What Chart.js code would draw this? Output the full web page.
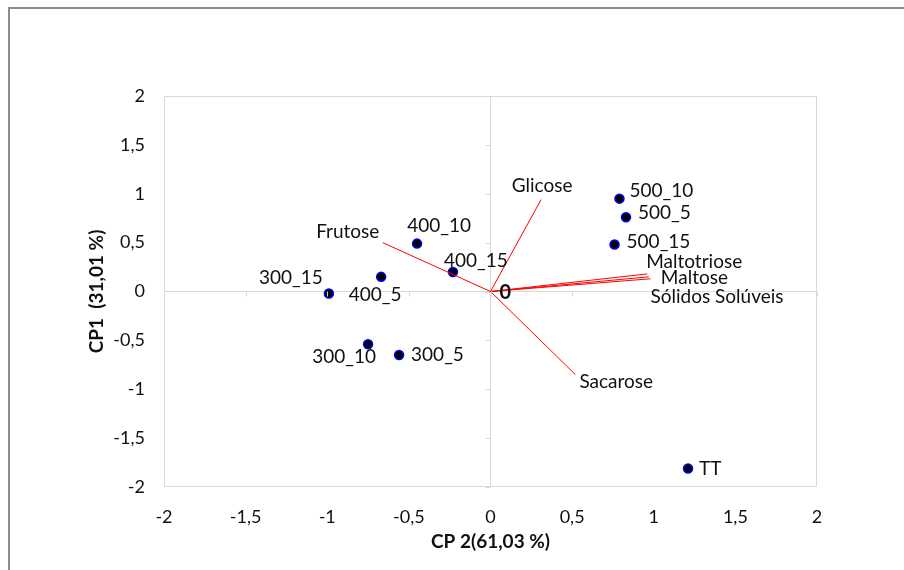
<!DOCTYPE html>
<html>
<head>
<meta charset="utf-8">
<script src="https://cdn.jsdelivr.net/npm/chart.js@4.4.1/dist/chart.umd.min.js"></script>
<style>
  html, body { margin: 0; padding: 0; background: #fff; }
  #wrap { width: 904px; height: 570px; }
</style>
</head>
<body>
<div id="wrap"><canvas id="biplot" width="904" height="570"></canvas></div>
<script>
// samples (scores)
const sampleNames = ["500_10", "500_5", "500_15", "400_10", "400_15", "400_5", "300_15", "300_10", "300_5", "TT"];
const sampleCp2 = [0.79, 0.83, 0.76, -0.45, -0.23, -0.67, -0.99, -0.75, -0.56, 1.21];
const sampleCp1 = [0.95, 0.76, 0.48, 0.49, 0.20, 0.15, -0.02, -0.54, -0.65, -1.81];

// variables (loadings)
const varNames = ["Glicose", "Frutose", "Sacarose", "Maltotriose", "Maltose", "Sólidos Solúveis"];
const varCp2 = [0.31, -0.66, 0.52, 0.96, 0.97, 0.98];
const varCp1 = [0.94, 0.50, -0.85, 0.18, 0.15, 0.13];

const ticks = [-2, -1.5, -1, -0.5, 0, 0.5, 1, 1.5, 2];

const FONT = "Lato, 'Open Sans', sans-serif";
const fmt = v => String(v).replace('.', ',');

// label placement relative to the mark: [dx, dy, align]
const sampleLabelPos = {
  "500_10": [10, -8, "left"],
  "500_5": [12, -4, "left"],
  "500_15": [12, -3, "left"],
  "400_10": [22, -18, "center"],
  "400_15": [23, -11, "center"],
  "400_5": [-6, 18, "center"],
  "300_15": [-38, -16, "center"],
  "300_10": [-24, 13, "center"],
  "300_5": [12, 0, "left"],
  "TT": [11, 0, "left"]
};
const varLabelPos = {
  "Glicose": [1, -14, "center"],
  "Frutose": [-35, -11, "center"],
  "Sacarose": [4, 7, "left"],
  "Maltotriose": [-1, -12, "left"],
  "Maltose": [12, 1, "left"],
  "Sólidos Solúveis": [0, 18, "left"]
};

const datasets = [];
varNames.forEach((name, i) => {
  datasets.push({
    label: name,
    data: [{x: 0, y: 0}, {x: varCp2[i], y: varCp1[i]}],
    showLine: true,
    borderColor: "#ff0000",
    borderWidth: 1,
    pointRadius: 0,
    fill: false
  });
});
datasets.push({
  label: "Amostras",
  data: sampleNames.map((n, i) => ({x: sampleCp2[i], y: sampleCp1[i]})),
  pointRadius: 4.5,
  pointBackgroundColor: "#000000",
  pointBorderColor: "#0000ff",
  pointBorderWidth: 1.5
});

const frame = {
  id: "frame",
  beforeDraw(chart) {
    const c = chart.ctx;
    c.save();
    c.strokeStyle = "#8c8c8c";
    c.lineWidth = 2;
    c.beginPath();
    c.moveTo(9, 570);
    c.lineTo(9, 8);
    c.lineTo(904, 8);
    c.stroke();
    c.restore();
  },
  afterDatasetsDraw(chart) {
    const c = chart.ctx;
    const a = chart.chartArea;
    const xs = chart.scales.x, ys = chart.scales.y;
    c.save();
    // plot border
    c.strokeStyle = "#d9d9d9";
    c.lineWidth = 1;
    c.strokeRect(a.left + 0.5, a.top + 0.5, a.right - a.left - 1, a.bottom - a.top - 1);
    // small ticks on the zero lines
    const x0 = xs.getPixelForValue(0), y0 = ys.getPixelForValue(0);
    c.beginPath();
    ticks.forEach(t => {
      const px = Math.round(xs.getPixelForValue(t)) + 0.5;
      c.moveTo(px, y0); c.lineTo(px, y0 + 5);
      const py = Math.round(ys.getPixelForValue(t)) + 0.5;
      c.moveTo(x0 - 5, py); c.lineTo(x0, py);
    });
    c.stroke();

    // labels
    c.fillStyle = "#111111";
    c.font = "19px " + FONT;
    c.textBaseline = "middle";
    sampleNames.forEach((n, i) => {
      const p = sampleLabelPos[n];
      c.textAlign = p[2];
      c.fillText(n, xs.getPixelForValue(sampleCp2[i]) + p[0], ys.getPixelForValue(sampleCp1[i]) + p[1]);
    });
    varNames.forEach((n, i) => {
      const p = varLabelPos[n];
      c.textAlign = p[2];
      c.fillText(n, xs.getPixelForValue(varCp2[i]) + p[0], ys.getPixelForValue(varCp1[i]) + p[1]);
    });
    c.textAlign = "left";
    c.font = "bold 20px " + FONT;
    c.fillText("0", x0 + 9, y0 + 1);
    c.restore();
  }
};

new Chart(document.getElementById("biplot"), {
  type: "scatter",
  data: { datasets },
  options: {
    responsive: false,
    animation: false,
    layout: { padding: { left: 80, top: 96, right: 87, bottom: 13 } },
    plugins: { legend: { display: false }, tooltip: { enabled: false } },
    scales: {
      x: {
        type: "linear",
        min: -2, max: 2,
        afterFit: s => { s.height = 70; },
        afterBuildTicks: s => { s.ticks = ticks.map(v => ({value: v})); },
        ticks: { padding: 19, color: "#111111", font: { family: FONT, size: 18 }, callback: fmt, maxRotation: 0 },
        grid: {
          drawTicks: false,
          color: ctx => ctx.tick && ctx.tick.value === 0 ? "#d9d9d9" : "rgba(0,0,0,0)"
        },
        border: { display: false },
        title: { display: true, text: "CP 2(61,03 %)", color: "#111111", font: { family: FONT, size: 19, weight: "bold" }, padding: { top: 0, bottom: 4 } }
      },
      y: {
        type: "linear",
        min: -2, max: 2,
        afterFit: s => { s.width = 84; },
        afterBuildTicks: s => { s.ticks = ticks.map(v => ({value: v})); },
        ticks: { padding: 19, color: "#111111", font: { family: FONT, size: 18 }, callback: fmt },
        grid: {
          drawTicks: false,
          color: ctx => ctx.tick && ctx.tick.value === 0 ? "#d9d9d9" : "rgba(0,0,0,0)"
        },
        border: { display: false },
        title: { display: true, text: "CP1  (31,01 %)", color: "#111111", font: { family: FONT, size: 19, weight: "bold" }, padding: { top: 5, bottom: 0 } }
      }
    }
  },
  plugins: [frame]
});
</script>
</body>
</html>
